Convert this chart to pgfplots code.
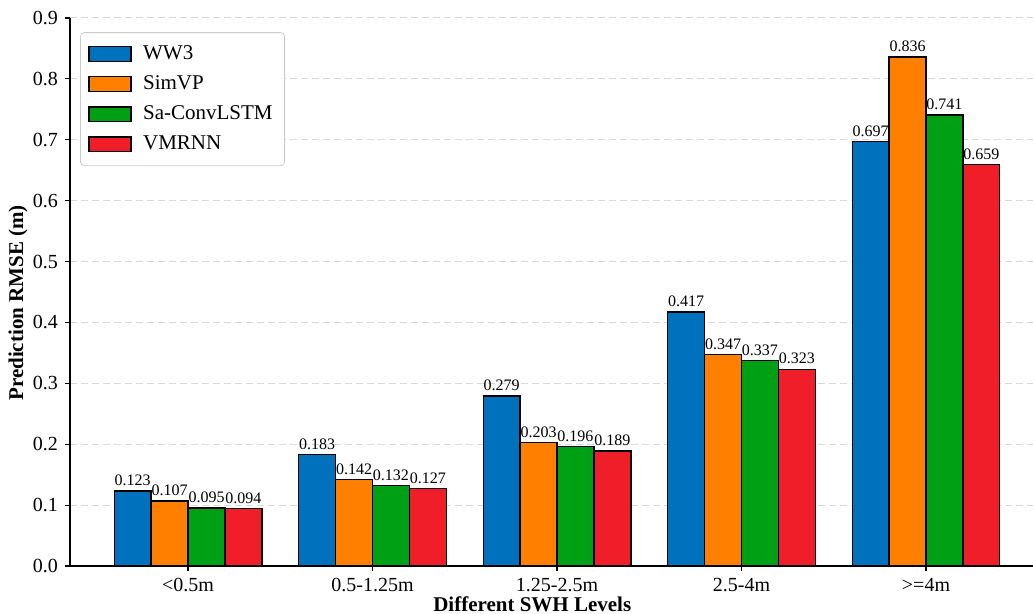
\documentclass[border=0pt]{standalone}
\usepackage{pgfplots}
\pgfplotsset{compat=1.18}
\usepackage{fontspec}
\setmainfont{Liberation Serif}
\definecolor{cBlue}{RGB}{0,114,189}
\definecolor{cOrange}{RGB}{255,127,0}
\definecolor{cGreen}{RGB}{0,160,20}
\definecolor{cRed}{RGB}{240,30,40}
\begin{document}
\begin{tikzpicture}
\path[use as bounding box] (-35pt,-24pt) rectangle (481.5pt,283pt);
\begin{axis}[
  anchor=south west, at={(0pt,0pt)},
  scale only axis, width=481.5pt, height=274pt,
  xmin=-0.64, xmax=4.58, ymin=0, ymax=0.9,
  axis x line*=bottom, axis y line*=left,
  axis line style={-, line width=0.8pt},
  xtick={0,1,2,3,4},
  xticklabels={{<0.5m},{0.5-1.25m},{1.25-2.5m},{2.5-4m},{>=4m}},
  ytick={0,0.1,...,0.9},
  yticklabel={\pgfmathprintnumber[fixed,fixed zerofill,precision=1]{\tick}},
  /pgf/number format/assume math mode=true,
  tick align=outside, major tick length=2.5pt,
  tick style={black, line width=0.6pt},
  ymajorgrids, major grid style={gray!30, dash pattern=on 3.5pt off 2pt, line width=0.5pt},
  tick label style={font=\fontsize{10}{12}\selectfont},
  xlabel={\textbf{Different SWH Levels}},
  ylabel={\textbf{Prediction RMSE (m)}},
  label style={font=\fontsize{10.5}{12}\selectfont},
  xlabel style={at={(axis description cs:0.48,0)}, anchor=center, yshift=-19pt},
  ylabel style={at={(axis description cs:-0.054,0.48)}, anchor=center},
  ybar, bar width=0.2,
  every axis plot/.append style={draw=black, line width=0.7pt},
  nodes near coords={\pgfmathprintnumber[fixed,precision=3]{\pgfplotspointmeta}},
  every node near coord/.append style={font=\fontsize{8}{9}\selectfont, black, inner sep=2.2pt},
  legend cell align=left,
  legend style={at={(0.0104,0.974)}, anchor=north west, draw=gray!40, rounded corners=2pt,
    font=\fontsize{10.5}{12}\selectfont, row sep=2.6pt, inner xsep=4pt, inner ysep=4.5pt},
  legend image code/.code={\draw[#1, sharp corners] (0pt,-3.7pt) rectangle (21pt,3.7pt); \path[draw=none,fill=none] (0pt,0pt) -- (25pt,0pt);},
]
\addplot[fill=cBlue, bar shift=-0.3] coordinates {(0,0.123) (1,0.183) (2,0.279) (3,0.417) (4,0.697)};
\addplot[fill=cOrange, bar shift=-0.1] coordinates {(0,0.107) (1,0.142) (2,0.203) (3,0.347) (4,0.836)};
\addplot[fill=cGreen, bar shift=0.1] coordinates {(0,0.095) (1,0.132) (2,0.196) (3,0.337) (4,0.741)};
\addplot[fill=cRed, bar shift=0.3] coordinates {(0,0.094) (1,0.127) (2,0.189) (3,0.323) (4,0.659)};
\legend{WW3,SimVP,Sa-ConvLSTM,VMRNN}
\end{axis}
\end{tikzpicture}
\end{document}
